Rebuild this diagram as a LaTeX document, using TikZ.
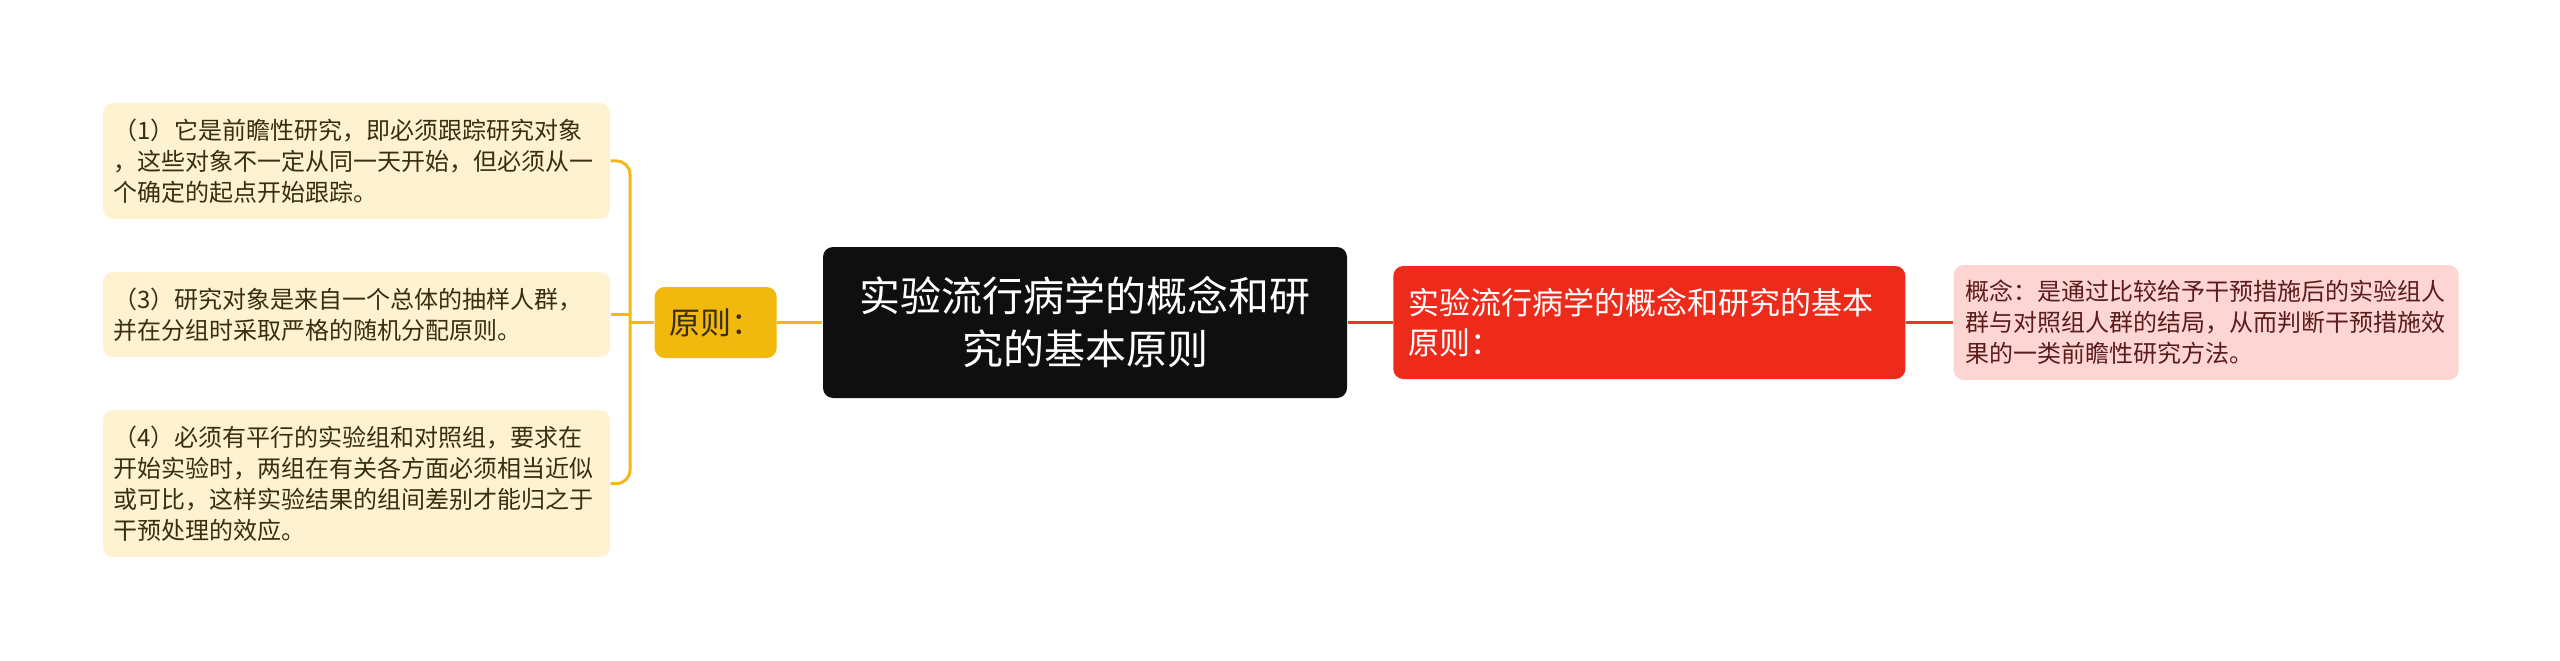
\documentclass[tikz,border=0pt]{standalone}
\usepackage{fontspec}
\usepackage{xcolor}
\usepackage{tikz}
\usetikzlibrary{positioning}
\newfontfamily\cjk{Noto Sans CJK SC}
\definecolor{rootblack}{RGB}{15, 15, 15}
\definecolor{tagyellow}{RGB}{241, 184, 14}
\definecolor{tagred}{RGB}{238, 43, 27}
\definecolor{leafcream}{RGB}{254, 242, 208}
\definecolor{leafpink}{RGB}{253, 213, 211}
\definecolor{leaftext}{RGB}{58, 46, 18}
\definecolor{pinktext}{RGB}{91, 28, 28}
\definecolor{linkyellow}{RGB}{240, 184, 27}
\definecolor{linkred}{RGB}{226, 59, 46}
\tikzstyle{ylink} = [draw=linkyellow, line width=0.9pt]
\tikzstyle{rlink} = [draw=linkred, line width=0.75pt]
\tikzstyle{card} = [rectangle, rounded corners=3pt, inner ysep=0pt]
\tikzstyle{root} = [card, fill=rootblack, text=white, text width=140pt, inner xsep=8.6pt,
                    minimum height=45.3pt, align=center,
                    font=\cjk\fontsize{12.3pt}{15.9pt}\selectfont]
\tikzstyle{yellowtag} = [card, fill=tagyellow, text=leaftext, minimum width=36.6pt,
                         minimum height=21.3pt, inner xsep=0pt,
                         font=\cjk\fontsize{9.3pt}{12pt}\selectfont]
\tikzstyle{redtag} = [card, fill=tagred, text=white, text width=144.6pt, inner xsep=4.5pt,
                      minimum height=33.9pt, align=left,
                      font=\cjk\fontsize{9.3pt}{12pt}\selectfont]
\tikzstyle{pinkleaf} = [card, fill=leafpink, text=pinktext, text width=144.3pt, inner xsep=3.6pt,
                        minimum height=34.5pt, align=left,
                        font=\cjk\fontsize{7.2pt}{9.3pt}\selectfont]
\tikzstyle{leafbox} = [card, fill=leafcream, text=leaftext, text width=146pt, inner xsep=3.05pt,
                       align=left, font=\cjk\fontsize{7.2pt}{9.3pt}\selectfont]

\begin{document}
\begin{tikzpicture}[x=0.3pt, y=-0.3pt, node distance=13.5pt]
    \useasboundingbox (0,0) rectangle (2560,661);
    % Nodes
    \node[root] (root) at (1085,322.5) {实验流行病学的概念和研\\究的基本原则};
    \node[yellowtag, left=of root] (rule) {原则：};
    \node[redtag, right=of root] (def) {实验流行病学的概念和研究的基本\\原则：};
    \node[pinkleaf, right=14.1pt of def] (concept) {概念：是通过比较给予干预措施后的实验组人\\群与对照组人群的结局，从而判断干预措施效\\果的一类前瞻性研究方法。};
    \node[leafbox, minimum height=34.8pt] (p1) at (356.5,161) {（1）它是前瞻性研究，即必须跟踪研究对象\\，这些对象不一定从同一天开始，但必须从一\\个确定的起点开始跟踪。};
    \node[leafbox, minimum height=25.5pt] (p3) at (356.5,314.5) {（3）研究对象是来自一个总体的抽样人群，\\并在分组时采取严格的随机分配原则。};
    \node[leafbox, minimum height=44.1pt] (p4) at (356.5,483.5) {（4）必须有平行的实验组和对照组，要求在\\开始实验时，两组在有关各方面必须相当近似\\或可比，这样实验结果的组间差别才能归之于\\干预处理的效应。};
    \coordinate[left=7.2pt of rule] (fork);

    % Links
    \draw[ylink] (rule) -- (root);
    \draw[rlink] (root) -- (def);
    \draw[rlink] (def) -- (concept);
    \draw[ylink] (rule) -- (fork);
    \draw[ylink, rounded corners=4pt] (p1) -| (fork) |- (p4);
    \draw[ylink] (p3) -- (p3 -| fork);
\end{tikzpicture}
\end{document}
